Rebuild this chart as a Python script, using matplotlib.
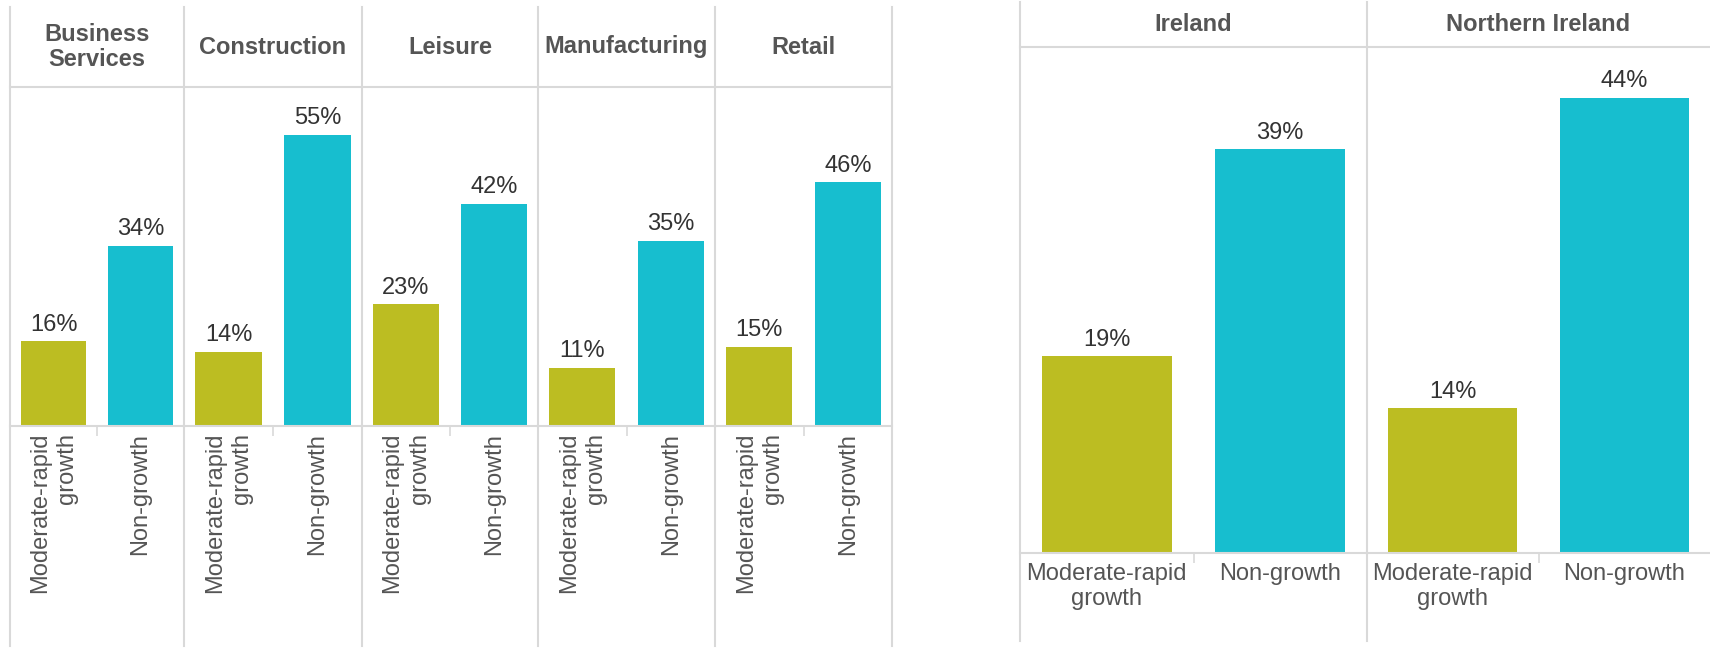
import matplotlib.pyplot as plt
from matplotlib.lines import Line2D

plt.rcParams['font.family'] = ['Liberation Sans', 'DejaVu Sans']

W, H = 1710, 648

# data
categories = ['Moderate-rapid\ngrowth', 'Non-growth']
sectors = ['Business\nServices', 'Construction', 'Leisure', 'Manufacturing', 'Retail']
sector_moderate = [16, 14, 23, 11, 15]
sector_non = [34, 55, 42, 35, 46]
regions = ['Ireland', 'Northern Ireland']
region_moderate = [19, 14]
region_non = [39, 44]

colors = ['#bcbd22', '#17becf']
grid_c = '#d9d9d9'
head_c = '#555555'
val_c = '#333333'
fs = 17

fig = plt.figure(figsize=(W / 100, H / 100), dpi=100)


def fx(x):
    return x / W


def fy(y):
    return 1 - y / H


def vline(x, y0, y1):
    fig.add_artist(Line2D([fx(x), fx(x)], [fy(y0), fy(y1)], color=grid_c, lw=1.5))


def hline(x0, x1, y):
    fig.add_artist(Line2D([fx(x0), fx(x1)], [fy(y), fy(y)], color=grid_c, lw=1.5))


def panel(x0, x1, top, base, head_top, title, vals, ymax, rotate):
    ax = fig.add_axes([fx(x0), fy(base), (x1 - x0) / W, (base - top) / H])
    ax.bar([0, 1], vals, width=0.75, color=colors)
    ax.set_xlim(-0.5, 1.5)
    ax.set_ylim(0, ymax)
    for s in ['left', 'right', 'top']:
        ax.spines[s].set_visible(False)
    ax.spines['bottom'].set_color(grid_c)
    ax.spines['bottom'].set_linewidth(1.5)
    ax.set_yticks([])
    ax.set_xticks([0, 1])
    ax.set_xticks([0.5], minor=True)
    ax.tick_params(axis='x', which='major', length=0, colors=head_c, labelsize=fs)
    ax.tick_params(axis='x', which='minor', length=7, width=1.2, color=grid_c, direction='out')
    if rotate:
        labs = ax.set_xticklabels(categories, rotation=90, va='top', ha='center')
        ax.tick_params(axis='x', which='major', pad=5)
        for t in labs:
            t.set_multialignment('right')
            t.set_linespacing(1.3)
    else:
        labs = ax.set_xticklabels(categories, ha='center', va='top')
        ax.tick_params(axis='x', which='major', pad=7)
        for t in labs:
            t.set_multialignment('center')
    for i, v in enumerate(vals):
        ax.annotate(f'{v}%', (i, v), xytext=(0, 4), textcoords='offset points',
                    ha='center', va='bottom', fontsize=fs, color=val_c)
    fig.text(fx((x0 + x1) / 2), fy((head_top + top) / 2), title, ha='center', va='center',
             fontsize=fs, fontweight='bold', color=head_c, linespacing=1.1)
    return ax


# left block: sectors
left_edges = [10, 184, 362, 538, 715, 892]
l_top, l_base, l_head, l_bottom = 87, 426, 7, 646
for i, name in enumerate(sectors):
    panel(left_edges[i], left_edges[i + 1], l_top, l_base, l_head, name,
          [sector_moderate[i], sector_non[i]], 64, True)
for x in left_edges:
    vline(x, l_head, l_bottom)
hline(left_edges[0], left_edges[-1], l_top)

# right block: regions
right_edges = [1020, 1367, 1710]
r_top, r_base, r_head, r_bottom = 47, 553, 2, 641
for i, name in enumerate(regions):
    panel(right_edges[i], right_edges[i + 1], r_top, r_base, r_head, name,
          [region_moderate[i], region_non[i]], 48.9, False)
for x in right_edges[:2]:
    vline(x, r_head, r_bottom)
hline(right_edges[0], right_edges[-1], r_top)

fig.savefig('out.png', dpi=100, facecolor='white')
